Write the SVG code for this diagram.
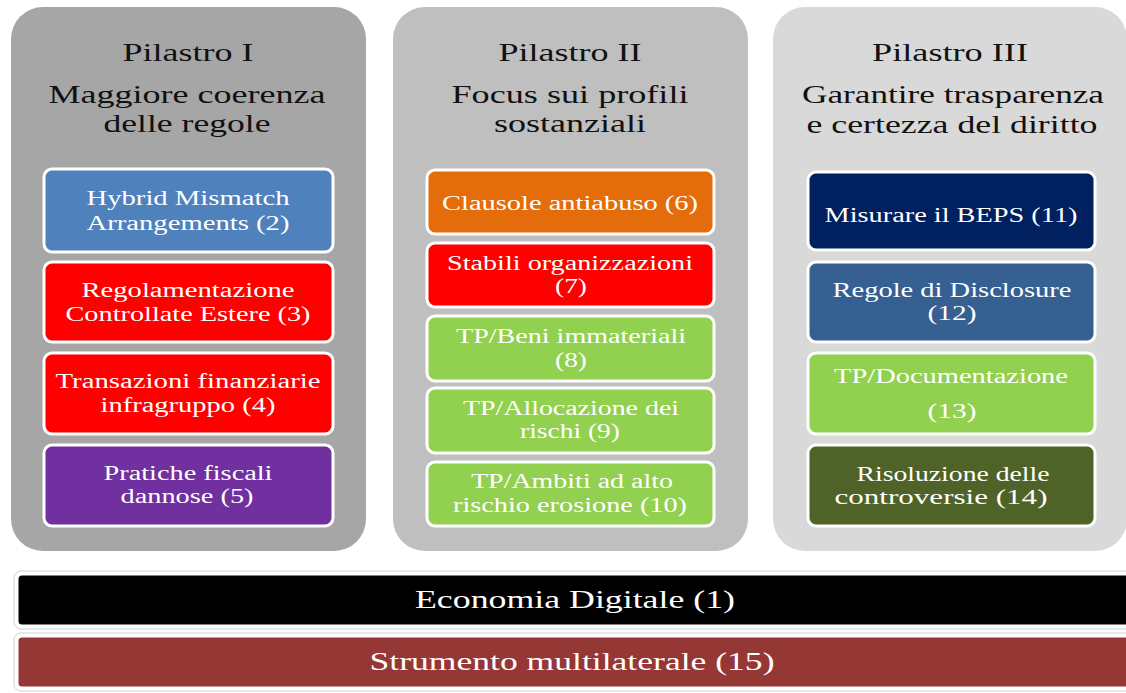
<svg xmlns="http://www.w3.org/2000/svg" width="1126" height="693" viewBox="0 0 1126 693">
<defs>
<style>
.t{font-family:"Liberation Serif","Times New Roman",serif;fill:#111;font-size:26px;text-anchor:middle}
.b{font-family:"Liberation Serif","Times New Roman",serif;fill:#fff;font-size:20px;text-anchor:middle}
.f{font-family:"Liberation Serif","Times New Roman",serif;fill:#fff;font-size:26px;text-anchor:middle}
.box{stroke:#fff;stroke-width:3}
.bar{stroke:#fff;stroke-width:3}
</style>
</defs>
<rect width="1126" height="693" fill="#fff"/>
<g id="pillar1">
<rect x="11" y="7" width="355" height="544" rx="32" fill="#a6a6a6"/>
<text class="t" x="188" y="61" textLength="131" lengthAdjust="spacingAndGlyphs">Pilastro I</text>
<text class="t" x="187" y="103" textLength="277" lengthAdjust="spacingAndGlyphs">Maggiore coerenza</text>
<text class="t" x="187" y="132" textLength="167" lengthAdjust="spacingAndGlyphs">delle regole</text>
</g>
<g id="pillar2">
<rect x="393" y="7" width="355" height="544" rx="32" fill="#bfbfbf"/>
<text class="t" x="570" y="61" textLength="143" lengthAdjust="spacingAndGlyphs">Pilastro II</text>
<text class="t" x="570" y="103" textLength="237" lengthAdjust="spacingAndGlyphs">Focus sui profili</text>
<text class="t" x="570" y="132" textLength="152" lengthAdjust="spacingAndGlyphs">sostanziali</text>
</g>
<g id="pillar3">
<rect x="773" y="7" width="354" height="544" rx="32" fill="#d9d9d9"/>
<text class="t" x="950" y="61" textLength="156" lengthAdjust="spacingAndGlyphs">Pilastro III</text>
<text class="t" x="953" y="103" textLength="302" lengthAdjust="spacingAndGlyphs">Garantire trasparenza</text>
<text class="t" x="952" y="133" textLength="291" lengthAdjust="spacingAndGlyphs">e certezza del diritto</text>
</g>
<g id="n2">
<rect class="box" x="44" y="169" width="289" height="83" rx="8" fill="#4f81bd"/>
<text class="b" x="188" y="205" textLength="203" lengthAdjust="spacingAndGlyphs">Hybrid Mismatch</text>
<text class="b" x="188" y="230" textLength="203" lengthAdjust="spacingAndGlyphs">Arrangements (2)</text>
</g>
<g id="n3">
<rect class="box" x="44" y="262" width="289" height="80" rx="8" fill="#ff0000"/>
<text class="b" x="188" y="297" textLength="213" lengthAdjust="spacingAndGlyphs">Regolamentazione</text>
<text class="b" x="188" y="321" textLength="245" lengthAdjust="spacingAndGlyphs">Controllate Estere (3)</text>
</g>
<g id="n4">
<rect class="box" x="44" y="353" width="289" height="81" rx="8" fill="#ff0000"/>
<text class="b" x="188" y="388" textLength="265" lengthAdjust="spacingAndGlyphs">Transazioni finanziarie</text>
<text class="b" x="188" y="412" textLength="175" lengthAdjust="spacingAndGlyphs">infragruppo (4)</text>
</g>
<g id="n5">
<rect class="box" x="44" y="445" width="289" height="81" rx="8" fill="#7030a0"/>
<text class="b" x="188" y="480" textLength="169" lengthAdjust="spacingAndGlyphs">Pratiche fiscali</text>
<text class="b" x="187" y="503" textLength="133" lengthAdjust="spacingAndGlyphs">dannose (5)</text>
</g>
<g id="n6">
<rect class="box" x="427" y="170" width="287" height="64" rx="8" fill="#e46c0a"/>
<text class="b" x="570" y="210" textLength="256" lengthAdjust="spacingAndGlyphs">Clausole antiabuso (6)</text>
</g>
<g id="n7">
<rect class="box" x="427" y="243" width="287" height="64" rx="8" fill="#ff0000"/>
<text class="b" x="570" y="270" textLength="246" lengthAdjust="spacingAndGlyphs">Stabili organizzazioni</text>
<text class="b" x="571" y="293" textLength="32" lengthAdjust="spacingAndGlyphs">(7)</text>
</g>
<g id="n8">
<rect class="box" x="427" y="316" width="287" height="65" rx="8" fill="#92d050"/>
<text class="b" x="571" y="343" textLength="230" lengthAdjust="spacingAndGlyphs">TP/Beni immateriali</text>
<text class="b" x="571" y="367" textLength="32" lengthAdjust="spacingAndGlyphs">(8)</text>
</g>
<g id="n9">
<rect class="box" x="427" y="388" width="287" height="65" rx="8" fill="#92d050"/>
<text class="b" x="571" y="415" textLength="216" lengthAdjust="spacingAndGlyphs">TP/Allocazione dei</text>
<text class="b" x="570" y="438" textLength="100" lengthAdjust="spacingAndGlyphs">rischi (9)</text>
</g>
<g id="n10">
<rect class="box" x="427" y="462" width="287" height="64" rx="8" fill="#92d050"/>
<text class="b" x="572" y="488" textLength="202" lengthAdjust="spacingAndGlyphs">TP/Ambiti ad alto</text>
<text class="b" x="570" y="512" textLength="234" lengthAdjust="spacingAndGlyphs">rischio erosione (10)</text>
</g>
<g id="n11">
<rect class="box" x="808" y="172" width="287" height="78" rx="8" fill="#002060"/>
<text class="b" x="951" y="222" textLength="253" lengthAdjust="spacingAndGlyphs">Misurare il BEPS (11)</text>
</g>
<g id="n12">
<rect class="box" x="808" y="262" width="287" height="80" rx="8" fill="#376092"/>
<text class="b" x="952" y="297" textLength="239" lengthAdjust="spacingAndGlyphs">Regole di Disclosure</text>
<text class="b" x="952" y="320" textLength="49" lengthAdjust="spacingAndGlyphs">(12)</text>
</g>
<g id="n13">
<rect class="box" x="808" y="353" width="287" height="81" rx="8" fill="#92d050"/>
<text class="b" x="951" y="383" textLength="234" lengthAdjust="spacingAndGlyphs">TP/Documentazione</text>
<text class="b" x="952" y="418" textLength="49" lengthAdjust="spacingAndGlyphs">(13)</text>
</g>
<g id="n14">
<rect class="box" x="808" y="445" width="287" height="81" rx="8" fill="#4f6228"/>
<text class="b" x="953" y="481" textLength="193" lengthAdjust="spacingAndGlyphs">Risoluzione delle</text>
<text class="b" x="941" y="504" textLength="213" lengthAdjust="spacingAndGlyphs">controversie (14)</text>
</g>
<g id="n1">
<rect x="14" y="571" width="1130" height="58" rx="7" fill="none" stroke="#d0d0d0" stroke-width="1"/>
<rect class="bar" x="17" y="574" width="1130" height="52" rx="5" fill="#000"/>
<text class="f" x="575" y="608" textLength="320" lengthAdjust="spacingAndGlyphs">Economia Digitale (1)</text>
</g>
<g id="n15">
<rect x="14" y="633" width="1130" height="58" rx="7" fill="none" stroke="#d0d0d0" stroke-width="1"/>
<rect class="bar" x="17" y="636" width="1130" height="52" rx="5" fill="#953735"/>
<text class="f" x="572" y="670" textLength="405" lengthAdjust="spacingAndGlyphs">Strumento multilaterale (15)</text>
</g>
<g id="connectors"/>
</svg>
